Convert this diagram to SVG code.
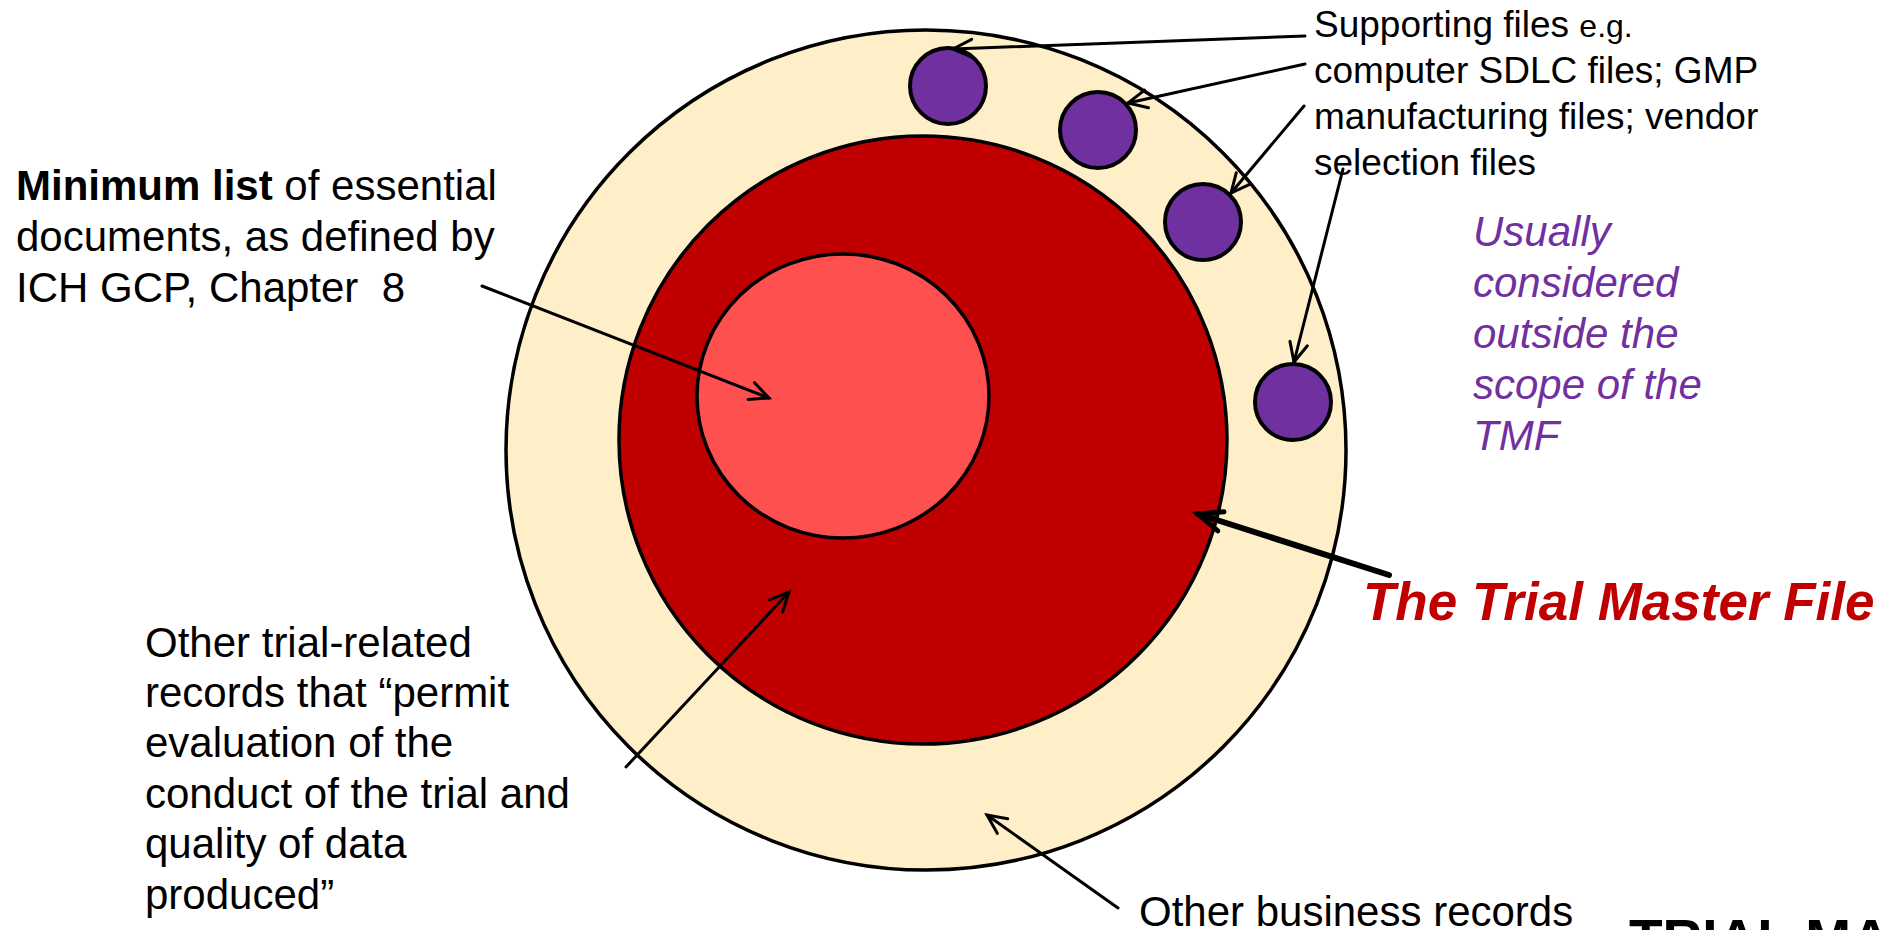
<svg xmlns="http://www.w3.org/2000/svg" width="1890" height="930" viewBox="0 0 1890 930">
<defs>
<style>
.t{font-family:"Liberation Sans",Arial,sans-serif;fill:#000}
.l42{font-size:42px}
.sup{font-size:37px}
.purp{font-family:"Liberation Sans",Arial,sans-serif;font-size:42px;font-style:italic;fill:#7030A0}
.tmf{font-family:"Liberation Sans",Arial,sans-serif;font-size:53px;font-style:italic;font-weight:bold;fill:#C00000}
.ring{stroke:#000;stroke-width:3.5}
.dot{fill:#7030A0;stroke:#000;stroke-width:4}
.conn{stroke:#000;stroke-width:3;fill:none;stroke-linecap:round}
.thick{stroke:#000;stroke-width:6;fill:none;stroke-linecap:round}
</style>
<marker id="arr" markerUnits="userSpaceOnUse" markerWidth="40" markerHeight="40" viewBox="-30 -20 40 40" refX="0" refY="0" orient="auto">
<path d="M-19,-9 L0,0 L-19,9" fill="none" stroke="#000" stroke-width="3" stroke-linecap="round" stroke-linejoin="miter"/>
</marker>
<marker id="arrT" markerUnits="userSpaceOnUse" markerWidth="50" markerHeight="50" viewBox="-40 -25 50 50" refX="0" refY="0" orient="auto">
<path d="M-24,-10 L0,0 L-24,10" fill="none" stroke="#000" stroke-width="5" stroke-linecap="round"/>
</marker>
</defs>
<rect width="1890" height="930" fill="#fff"/>
<g id="outer-ring"><circle class="ring" cx="926" cy="450" r="420" fill="#FFEFC8"/></g>
<g id="tmf-circle"><circle class="ring" cx="923" cy="440" r="304" fill="#C00000"/></g>
<g id="minimum-circle"><ellipse class="ring" cx="843" cy="396" rx="146" ry="142" fill="#FF5050"/></g>
<g id="support-1"><circle class="dot" cx="948" cy="86" r="38"/></g>
<g id="support-2"><circle class="dot" cx="1098" cy="130" r="38"/></g>
<g id="support-3"><circle class="dot" cx="1203" cy="222" r="38"/></g>
<g id="support-4"><circle class="dot" cx="1293" cy="402" r="38"/></g>
<g id="connectors">
<line class="conn" x1="1305" y1="36" x2="953" y2="49" marker-end="url(#arr)"/>
<line class="conn" x1="1305" y1="64" x2="1128" y2="103" marker-end="url(#arr)"/>
<line class="conn" x1="1304" y1="106" x2="1231" y2="193" marker-end="url(#arr)"/>
<line class="conn" x1="1343" y1="169" x2="1294" y2="362" marker-end="url(#arr)"/>
<line class="conn" x1="482" y1="286" x2="769" y2="398" marker-end="url(#arr)"/>
<line class="conn" x1="626" y1="767" x2="789" y2="592" marker-end="url(#arr)"/>
<line class="conn" x1="1118" y1="908" x2="987" y2="815" marker-end="url(#arr)"/>
<line class="thick" x1="1389" y1="575" x2="1198" y2="514" marker-end="url(#arrT)"/>
</g>
<g id="label-supporting">
<text class="t sup" x="1314" y="37">Supporting files <tspan font-size="32">e.g.</tspan></text>
<text class="t sup" x="1314" y="83">computer SDLC files; GMP</text>
<text class="t sup" x="1314" y="129">manufacturing files; vendor</text>
<text class="t sup" x="1314" y="175">selection files</text>
</g>
<g id="label-minimum">
<text class="t l42" x="16" y="200"><tspan font-weight="bold">Minimum list</tspan> of essential</text>
<text class="t l42" x="16" y="251">documents, as defined by</text>
<text class="t l42" x="16" y="302" xml:space="preserve">ICH GCP, Chapter  8</text>
</g>
<g id="label-scope">
<text class="purp" x="1473" y="246">Usually</text>
<text class="purp" x="1473" y="297">considered</text>
<text class="purp" x="1473" y="348">outside the</text>
<text class="purp" x="1473" y="399">scope of the</text>
<text class="purp" x="1473" y="450">TMF</text>
</g>
<g id="label-tmf"><text class="tmf" x="1363" y="620">The Trial Master File</text></g>
<g id="label-other-trial">
<text class="t l42" x="145" y="657">Other trial-related</text>
<text class="t l42" x="145" y="707">records that “permit</text>
<text class="t l42" x="145" y="757">evaluation of the</text>
<text class="t l42" x="145" y="808">conduct of the trial and</text>
<text class="t l42" x="145" y="858">quality of data</text>
<text class="t l42" x="145" y="909">produced”</text>
</g>
<g id="label-business"><text class="t l42" x="1139" y="926">Other business records</text></g>
<g id="footer"><text class="t" x="1629" y="958" font-size="55" font-weight="bold" fill="#111">TRIAL MA</text></g>
</svg>
